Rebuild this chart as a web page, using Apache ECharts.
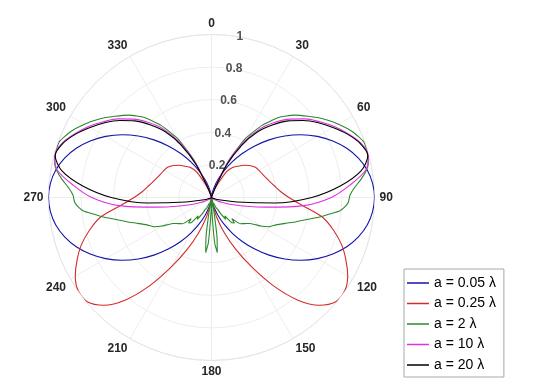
<!DOCTYPE html>
<html>
<head>
<meta charset="utf-8">
<script src="https://cdn.jsdelivr.net/npm/echarts@6/dist/echarts.min.js"></script>
<style>html,body{margin:0;padding:0;background:#fff;}#c{width:540px;height:385px;}</style>
</head>
<body>
<div id="c"></div>
<script>
// Half-pattern (0..180 deg); the pattern is symmetric about the vertical axis.
const angles5 = [0,5,10,15,20,25,30,35,40,45,50,55,60,65,70,75,80,85,90,95,100,105,110,115,120,125,130,135,140,145,150,155,160,165,170,175,180];
const blueVals = [0,0.008,0.030,0.067,0.117,0.179,0.25,0.329,0.413,0.5,0.587,0.671,0.75,0.821,0.883,0.933,0.970,0.992,1,0.992,0.970,0.933,0.883,0.821,0.75,0.671,0.587,0.5,0.413,0.329,0.25,0.179,0.117,0.067,0.030,0.008,0];
const redVals = [0,0.002,0.008,0.02,0.045,0.095,0.18,0.225,0.25,0.28,0.305,0.325,0.335,0.343,0.355,0.372,0.395,0.425,0.475,0.56,0.69,0.775,0.85,0.91,0.965,0.998,0.995,0.935,0.82,0.66,0.49,0.35,0.23,0.13,0.05,0.015,0];
const magentaVals = [0,0,0,0.012,0.06,0.24,0.39,0.51,0.6,0.68,0.75,0.81,0.87,0.925,0.975,0.997,0.96,0.85,0.735,0.57,0.34,0.2,0.12,0.07,0.04,0.025,0.015,0.008,0.003,0,0,0,0,0,0,0,0];
const blackVals = [0,0,0,0.01,0.05,0.22,0.37,0.49,0.58,0.665,0.735,0.8,0.86,0.92,0.97,0.993,0.93,0.79,0.615,0.39,0.16,0.06,0.03,0.015,0.005,0,0,0,0,0,0,0,0,0,0,0,0];
const greenAngles = [0,10,15,20,25,30,35,40,45,50,55,60,65,70,74,78,80,83,86,89,92,94,96,98,100,103,106,109,113,117,120,124,128,132,136,138,141,144,147,150,153,156,159,162,165,168,170,172,174,176,178,180];
const greenVals = [0,0,0.01,0.06,0.25,0.42,0.54,0.64,0.715,0.775,0.84,0.9,0.955,0.995,0.995,0.983,0.965,0.925,0.88,0.85,0.84,0.82,0.79,0.73,0.68,0.6,0.54,0.485,0.43,0.395,0.35,0.285,0.26,0.24,0.18,0.21,0.2,0.14,0.16,0.12,0.08,0.07,0.04,0.05,0.03,0.01,0.08,0.24,0.34,0.28,0.1,0];

const angleTicks = [0,30,60,90,120,150,180,210,240,270,300,330];
const radiusTicks = [0.2,0.4,0.6,0.8,1];
const seriesNames = ['a = 0.05 \u03bb','a = 0.25 \u03bb','a = 2 \u03bb','a = 10 \u03bb','a = 20 \u03bb'];
const seriesColors = ['#1414a8','#d42a2a','#2a8a2a','#e030e0','#000000'];

function full(angles, vals){
  const pts = angles.map((a,i)=>[vals[i], a]);
  for (let i = angles.length-2; i >= 0; i--) pts.push([vals[i], 360-angles[i]]);
  return pts;
}
const sets = [[angles5,blueVals],[angles5,redVals],[greenAngles,greenVals],[angles5,magentaVals],[angles5,blackVals]];

const chart = echarts.init(document.getElementById('c'), null, {renderer:'canvas'});
const gridColor = '#ededed';
const lblFont = {fontFamily:'Liberation Sans, Arial, sans-serif', fontWeight:'bold', fontSize:12, color:'#262626'};
const series = sets.map((s,i)=>({
  type:'line', name: seriesNames[i], coordinateSystem:'polar',
  data: full(s[0], s[1]), symbol:'none', smooth: i===2 ? 0.15 : 0.3,
  lineStyle:{color: seriesColors[i], width:1.1}, itemStyle:{color: seriesColors[i]},
  animation:false, z: 3+i
}));
series.push({
  type:'scatter', coordinateSystem:'polar', symbolSize:0, silent:true, animation:false,
  data: radiusTicks.map(r=>[r,10]),
  label:{show:true, position:'inside', formatter:p=>String(p.value[0]), ...lblFont}, z:10
});
chart.setOption({
  animation:false,
  polar:{center:[211.5,197.5], radius:163},
  angleAxis:{type:'value', min:0, max:360, interval:30, startAngle:90, clockwise:true,
    axisLine:{lineStyle:{color:'#e4e4e4', width:1}}, axisTick:{show:false},
    splitLine:{lineStyle:{color:gridColor, width:1}},
    axisLabel:{margin:5, ...lblFont, formatter:v=> angleTicks.includes(v) ? String(v) : ''}},
  radiusAxis:{type:'value', min:0, max:1, interval:0.2,
    axisLine:{show:false}, axisTick:{show:false}, axisLabel:{show:false},
    splitLine:{lineStyle:{color:gridColor, width:1}}},
  legend:{orient:'vertical', left:404, top:269, data:seriesNames,
    icon:'rect', itemWidth:22, itemHeight:1.5, itemGap:4.5, padding:[6,8,4,3],
    borderColor:'#a8a8a8', borderWidth:1, backgroundColor:'#fff',
    textStyle:{fontFamily:'Liberation Sans, Arial, sans-serif', fontSize:14, lineHeight:16, color:'#000'}},
  series: series
});
</script>
</body>
</html>
